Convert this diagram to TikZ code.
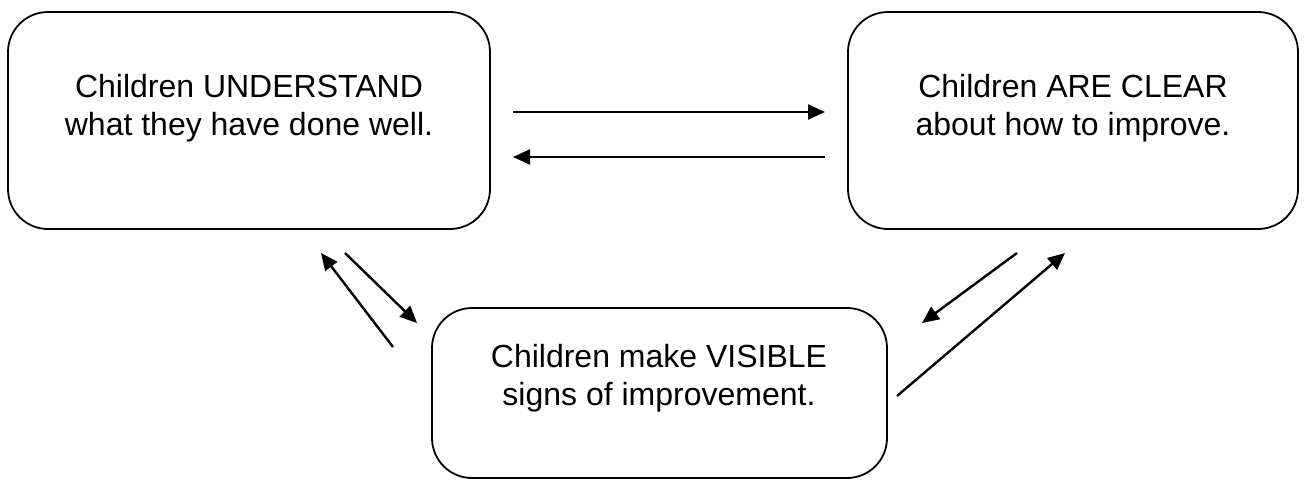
\documentclass[tikz,border=0pt]{standalone}
\usepackage{fontspec}
\setmainfont{Liberation Sans}
\usetikzlibrary{arrows.meta}
\begin{document}
\begin{tikzpicture}[x=1pt,y=-1pt,
  box/.style={draw=black,line width=1.8pt,rounded corners=40pt,inner sep=0pt},
  lbl/.style={align=center,font=\fontsize{32}{37.5}\selectfont,inner sep=0pt},
  arr/.style={line width=2.4pt,-{Triangle[length=17pt,width=15pt]}}]
\useasboundingbox (0,0) rectangle (1307,482);
\node[box,minimum width=482pt,minimum height=217pt] (b1) at (249,120.5) {};
\node[box,minimum width=450pt,minimum height=217pt] (b2) at (1073,120.5) {};
\node[box,minimum width=455pt,minimum height=170pt] (b3) at (659.5,393) {};
\node[lbl] (t1) at (249,108) {Children UNDERSTAND\\what they have done well.};
\node[lbl] (t2) at (1073,108) {Children ARE CLEAR\\about how to improve.};
\node[lbl] (t3) at (659,378) {Children make VISIBLE\\signs of improvement.};
\coordinate (a1s) at (513,112); \coordinate (a1e) at (825,112);
\coordinate (a2s) at (825,157); \coordinate (a2e) at (513,157);
\coordinate (a3s) at (393,347); \coordinate (a3e) at (321,253);
\coordinate (a4s) at (345,253); \coordinate (a4e) at (417,323);
\coordinate (a5s) at (1017,253); \coordinate (a5e) at (922,323);
\coordinate (a6s) at (897,396); \coordinate (a6e) at (1065,253);
\draw[arr] (a1s) -- (a1e);
\draw[arr] (a2s) -- (a2e);
\draw[arr] (a3s) -- (a3e);
\draw[arr] (a4s) -- (a4e);
\draw[arr] (a5s) -- (a5e);
\draw[arr] (a6s) -- (a6e);
\end{tikzpicture}
\end{document}
